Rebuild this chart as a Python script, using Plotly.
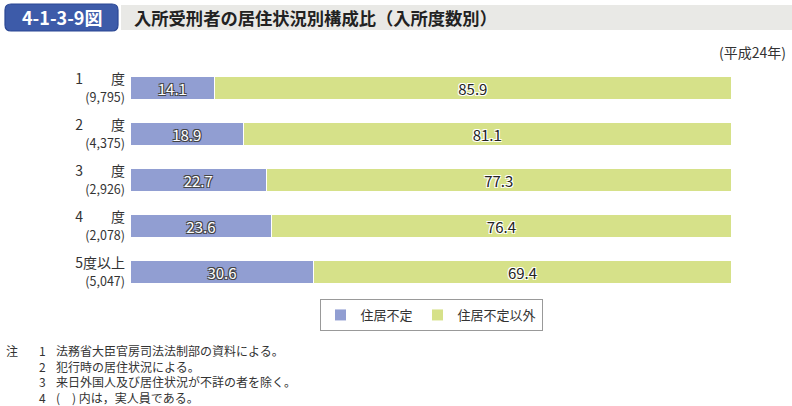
import plotly.graph_objects as go

categories = ["1　　度", "2　　度", "3　　度", "4　　度", "5度以上"]
counts = ["(9,795)", "(4,375)", "(2,926)", "(2,078)", "(5,047)"]
unstable = [14.1, 18.9, 22.7, 23.6, 30.6]
other = [85.9, 81.1, 77.3, 76.4, 69.4]
series_names = ["住居不定", "住居不定以外"]
title_num = "4-1-3-9図"
title_text = "入所受刑者の居住状況別構成比（入所度数別）"
year_note = "(平成24年)"
note_head = "注"
note_nums = ["1", "2", "3", "4"]
note_texts = [
    "法務省大臣官房司法法制部の資料による。",
    "犯行時の居住状況による。",
    "来日外国人及び居住状況が不詳の者を除く。",
    "(　) 内は，実人員である。",
]

FONT = "Noto Sans CJK JP"
W, H = 792, 406
L, R, T, B = 130, 61, 65, 111
PW, PH = W - L - R, H - T - B

def px(x):
    return (x - L) / PW

def py(y):
    return (H - B - y) / PH

labels = [f"{c}<br><span style='font-size:12.5px'>{n}</span>" for c, n in zip(categories, counts)]

outline_dark = "-1px -1px 0 #444, 1px -1px 0 #444, -1px 1px 0 #444, 1px 1px 0 #444"
outline_white = "-1px -1px 0 #fff, 1px -1px 0 #fff, -1px 1px 0 #fff, 1px 1px 0 #fff"

fig = go.Figure()
fig.add_trace(go.Bar(
    y=labels, x=unstable, orientation="h", name=series_names[0],
    marker=dict(color="#919ed2", line=dict(color="white", width=1)),
    text=[f"{v:.1f}" for v in unstable], textposition="inside", insidetextanchor="middle",
    constraintext="none",
    textfont=dict(color="white", size=15, family=FONT, shadow=outline_dark),
    hoverinfo="skip",
))
fig.add_trace(go.Bar(
    y=labels, x=other, orientation="h", name=series_names[1],
    marker=dict(color="#d6e189", line=dict(color="white", width=1)),
    text=[f"{v:.1f}" for v in other], textposition="inside", insidetextanchor="middle",
    constraintext="none",
    textfont=dict(color="#222", size=15, family=FONT, shadow=outline_white),
    hoverinfo="skip",
))

# rounded title box path in paper coords
x0, x1, y0, y1, r = 5, 118, 4, 31, 6
def P(x, y):
    return f"{px(x):.5f},{py(y):.5f}"
path = (f"M {P(x0 + r, y0)} L {P(x1 - r, y0)} Q {P(x1, y0)} {P(x1, y0 + r)} "
        f"L {P(x1, y1 - r)} Q {P(x1, y1)} {P(x1 - r, y1)} L {P(x0 + r, y1)} "
        f"Q {P(x0, y1)} {P(x0, y1 - r)} L {P(x0, y0 + r)} Q {P(x0, y0)} {P(x0 + r, y0)} Z")

shapes = [
    dict(type="rect", xref="paper", yref="paper", x0=px(121), x1=px(792), y0=py(30), y1=py(5),
         fillcolor="#e9e9e6", line=dict(width=0), layer="below"),
    dict(type="path", xref="paper", yref="paper", path=path,
         fillcolor="#3d5ba9", line=dict(color="#2a4794", width=1.2)),
]

nf = dict(family=FONT, size=12, color="#333")
annotations = [
    dict(text="<b>" + title_num + "</b>", xref="paper", yref="paper", x=px(62), y=py(17.5), showarrow=False,
         font=dict(family=FONT, size=18, color="white"), xanchor="center", yanchor="middle"),
    dict(text="<b>" + title_text + "</b>", xref="paper", yref="paper", x=px(132), y=py(17.5), showarrow=False,
         font=dict(family=FONT, size=17.3, color="#222"), xanchor="left", yanchor="middle"),
    dict(text=year_note, xref="paper", yref="paper", x=px(788), y=py(52), showarrow=False,
         font=dict(family=FONT, size=14, color="#333"), xanchor="right", yanchor="middle"),
    dict(text=note_head, xref="paper", yref="paper", x=px(4), y=py(350), showarrow=False,
         font=nf, xanchor="left", yanchor="middle"),
    dict(text="<br>".join(note_nums), xref="paper", yref="paper", x=px(37), y=py(373.5), showarrow=False,
         font=nf, xanchor="left", yanchor="middle", align="left"),
    dict(text="<br>".join(note_texts), xref="paper", yref="paper", x=px(54), y=py(373.5), showarrow=False,
         font=nf, xanchor="left", yanchor="middle", align="left"),
]

fig.update_layout(
    width=W, height=H,
    margin=dict(l=L, r=R, t=T, b=B, autoexpand=False),
    barmode="stack", bargap=0.48,
    paper_bgcolor="white", plot_bgcolor="white",
    font=dict(family=FONT, color="#333"),
    xaxis=dict(range=[0, 100], visible=False, fixedrange=True),
    yaxis=dict(autorange="reversed", showgrid=False, zeroline=False, showline=False, ticks="",
               ticklabelstandoff=4, tickfont=dict(size=14, family=FONT, color="#333"),
               fixedrange=True),
    legend=dict(orientation="h", x=px(431), xanchor="center", y=py(299), yanchor="top",
                bordercolor="#999", borderwidth=1, bgcolor="white",
                font=dict(size=13, family=FONT, color="#333"), itemwidth=30,
                traceorder="normal"),
    shapes=shapes, annotations=annotations,
    showlegend=True,
)

fig.write_html(
    "out.html",
    config={"displayModeBar": False},
    post_script="document.body.style.margin='0';document.body.style.overflow='hidden';",
)
